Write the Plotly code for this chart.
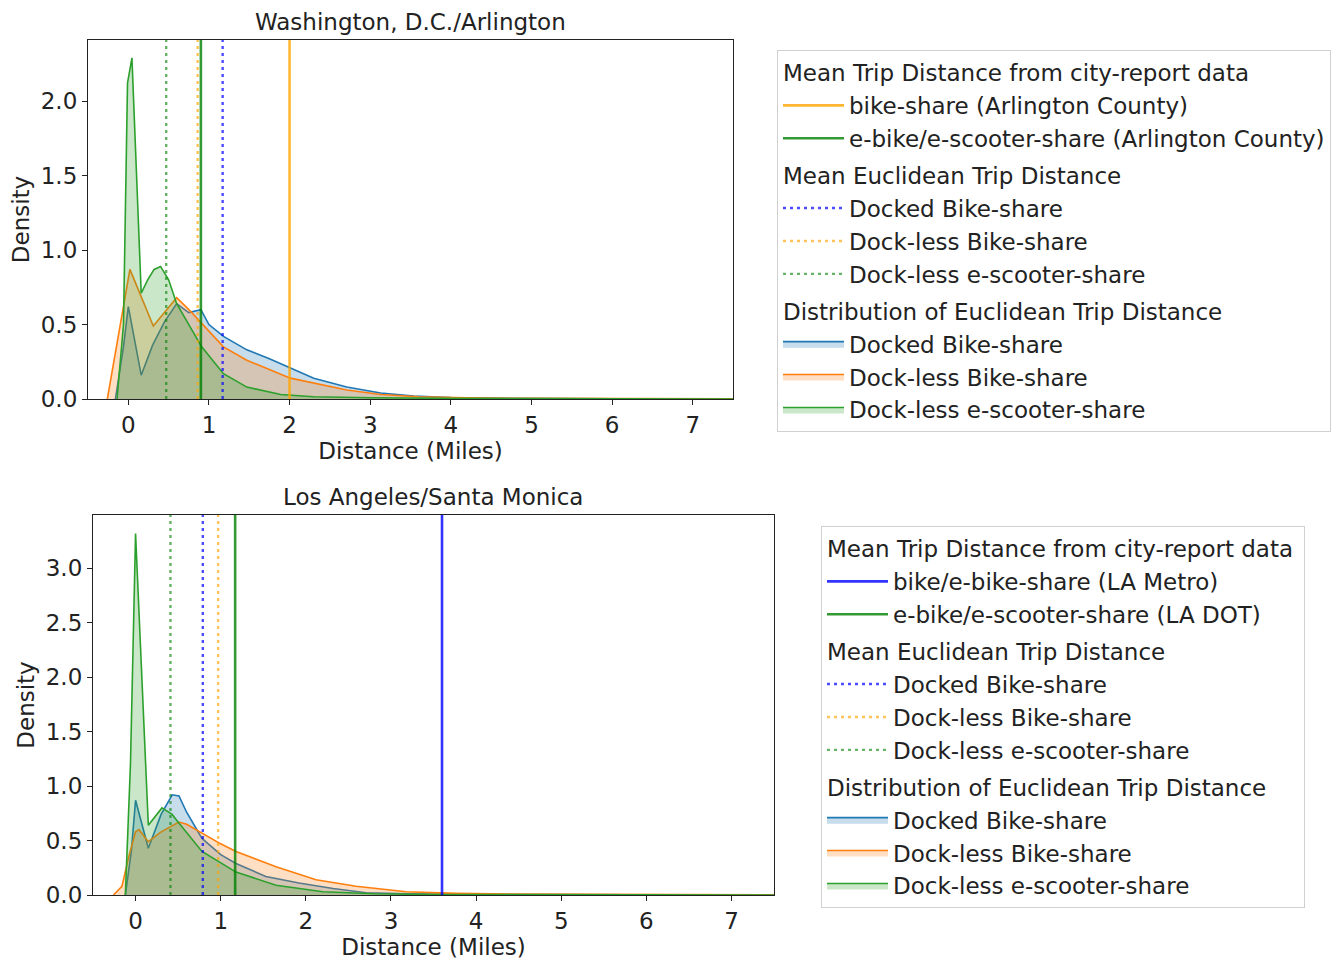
import plotly.graph_objects as go

# --- Washington, D.C./Arlington: KDE of Euclidean trip distance (miles) ---
dc_docked_x = [-0.16, -0.06, 0.0, 0.16, 0.3, 0.45, 0.6, 0.75, 0.9, 1.0, 1.18, 1.47, 1.75, 2.01, 2.3, 2.71, 3.13, 3.54, 4.0, 4.5, 5.0, 6.0, 7.5]
dc_docked_y = [0.0, 0.35, 0.62, 0.16, 0.36, 0.52, 0.64, 0.58, 0.6, 0.5, 0.42, 0.33, 0.27, 0.21, 0.14, 0.08, 0.04, 0.02, 0.01, 0.006, 0.003, 0.001, 0.0]

dc_dockless_x = [-0.26, -0.1, 0.02, 0.31, 0.6, 0.77, 0.89, 1.18, 1.47, 2.01, 2.71, 3.13, 3.6, 4.2, 5.0, 6.0, 7.5]
dc_dockless_y = [0.0, 0.5, 0.87, 0.49, 0.68, 0.59, 0.52, 0.35, 0.26, 0.14, 0.06, 0.03, 0.015, 0.008, 0.004, 0.002, 0.001]

dc_scooter_x = [-0.14, -0.06, -0.01, 0.045, 0.16, 0.24, 0.32, 0.4, 0.5, 0.6, 0.91, 1.18, 1.47, 1.89, 2.3, 3.0, 4.0, 5.0, 7.5]
dc_scooter_y = [0.0, 0.5, 2.12, 2.29, 0.71, 0.8, 0.87, 0.89, 0.8, 0.64, 0.35, 0.17, 0.08, 0.03, 0.015, 0.008, 0.004, 0.002, 0.0]

# --- Los Angeles/Santa Monica ---
la_docked_x = [-0.12, -0.05, 0.0, 0.15, 0.3, 0.43, 0.51, 0.6, 0.78, 1.0, 1.18, 1.53, 1.92, 2.32, 2.71, 3.2, 4.0, 5.0, 7.5]
la_docked_y = [0.0, 0.4, 0.87, 0.43, 0.74, 0.92, 0.91, 0.76, 0.52, 0.37, 0.29, 0.17, 0.11, 0.06, 0.02, 0.01, 0.005, 0.002, 0.0]

la_dockless_x = [-0.26, -0.16, -0.08, 0.0, 0.04, 0.15, 0.3, 0.51, 0.6, 0.78, 1.0, 1.18, 1.65, 2.12, 2.59, 3.18, 3.77, 4.5, 5.5, 7.5]
la_dockless_y = [0.0, 0.08, 0.35, 0.58, 0.6, 0.49, 0.58, 0.67, 0.65, 0.57, 0.47, 0.4, 0.26, 0.14, 0.08, 0.03, 0.015, 0.008, 0.004, 0.002]

la_scooter_x = [-0.12, -0.06, 0.0, 0.15, 0.31, 0.43, 0.49, 0.78, 1.18, 1.65, 2.2, 2.8, 3.5, 5.0, 7.5]
la_scooter_y = [0.0, 1.2, 3.32, 0.64, 0.8, 0.74, 0.68, 0.4, 0.21, 0.09, 0.03, 0.012, 0.005, 0.002, 0.0]

# mean distances (vertical lines)
dc_city_names = ["bike-share (Arlington County)", "e-bike/e-scooter-share (Arlington County)"]
dc_city_means = [2.0, 0.9]
dc_euclid_means = [1.17, 0.86, 0.47]

la_city_names = ["bike/e-bike-share (LA Metro)", "e-bike/e-scooter-share (LA DOT)"]
la_city_means = [3.6, 1.17]
la_euclid_means = [0.79, 0.97, 0.41]

mode_names = ["Docked Bike-share", "Dock-less Bike-share", "Dock-less e-scooter-share"]
x_ticks = [0, 1, 2, 3, 4, 5, 6, 7]

KDE_COLORS = ["#1f77b4", "#ff7f0e", "#2ca02c"]
KDE_FILLS = ["rgba(31,119,180,0.25)", "rgba(255,127,14,0.25)", "rgba(44,160,44,0.25)"]
MEAN_COLORS = ["rgba(0,0,255,0.7)", "rgba(255,165,0,0.65)", "rgba(0,128,0,0.6)"]
FONT = "DejaVu Sans"
FS = 23

G_CITY = "Mean Trip Distance from city-report data"
G_MEAN = "Mean Euclidean Trip Distance"
G_DIST = "Distribution of Euclidean Trip Distance"

# the page puts the plot 8px in from the window corner, so size the figure to fit
W, H, OFF = 1332, 957, 8


def px_x(sx):
    return (sx - OFF) / W


def px_y(sy):
    return 1 - (sy - OFF) / H


def add_panel(fig, xs, ys, city_names, city_means, city_colors, euclid_means, xref, yref, legend, ytop):
    # density curves first so the mean lines sit on top
    for i in range(3):
        fig.add_trace(go.Scatter(
            x=xs[i], y=ys[i], mode="lines", fill="tozeroy",
            line=dict(color=KDE_COLORS[i], width=1.6), fillcolor=KDE_FILLS[i],
            name=mode_names[i], legendgroup=legend + "dist", legendgrouptitle_text=G_DIST,
            legendrank=300 + i, legend=legend, xaxis=xref, yaxis=yref,
        ))
    for i in range(3):
        fig.add_trace(go.Scatter(
            x=[euclid_means[i], euclid_means[i]], y=[0, ytop], mode="lines",
            line=dict(color=MEAN_COLORS[i], width=2.4, dash="3px,4px"),
            name=mode_names[i], legendgroup=legend + "mean", legendgrouptitle_text=G_MEAN,
            legendrank=200 + i, legend=legend, xaxis=xref, yaxis=yref,
        ))
    for i in range(2):
        fig.add_trace(go.Scatter(
            x=[city_means[i], city_means[i]], y=[0, ytop], mode="lines",
            line=dict(color=city_colors[i], width=2.6),
            name=city_names[i], legendgroup=legend + "city", legendgrouptitle_text=G_CITY,
            legendrank=100 + i, legend=legend, xaxis=xref, yaxis=yref,
        ))


fig = go.Figure()

DC_YTOP = 2.41
LA_YTOP = 3.49

add_panel(fig, [dc_docked_x, dc_dockless_x, dc_scooter_x], [dc_docked_y, dc_dockless_y, dc_scooter_y],
          dc_city_names, dc_city_means, ["rgba(255,165,0,0.8)", "rgba(0,128,0,0.8)"],
          dc_euclid_means, "x", "y", "legend", DC_YTOP)
add_panel(fig, [la_docked_x, la_dockless_x, la_scooter_x], [la_docked_y, la_dockless_y, la_scooter_y],
          la_city_names, la_city_means, ["rgba(0,0,255,0.8)", "rgba(0,128,0,0.8)"],
          la_euclid_means, "x2", "y2", "legend2", LA_YTOP)

axis_style = dict(
    showline=True, linecolor="#222", linewidth=1.2, mirror=True,
    ticks="outside", ticklen=5, tickwidth=1, tickcolor="#222",
    showgrid=False, zeroline=False, automargin=False,
    tickfont=dict(family=FONT, size=FS, color="#222"),
)
xtitle = dict(text="Distance (Miles)", font=dict(family=FONT, size=FS, color="#222"), standoff=4)
ytitle = dict(text="Density", font=dict(family=FONT, size=FS, color="#222"), standoff=4)

legend_style = dict(
    bgcolor="white", bordercolor="#d0d0d0", borderwidth=1,
    font=dict(family=FONT, size=FS, color="#222"),
    grouptitlefont=dict(family=FONT, size=FS, color="#222"),
    traceorder="grouped", tracegroupgap=4, itemwidth=61,
    xanchor="left", yanchor="top",
)

fig.update_layout(
    width=W, height=H,
    margin=dict(l=0, r=0, t=0, b=0),
    plot_bgcolor="white", paper_bgcolor="white",
    font=dict(family=FONT, size=FS, color="#222"),
    xaxis=dict(domain=[px_x(88), px_x(733)], anchor="y", range=[-0.5, 7.5], tickvals=x_ticks, title=xtitle, **axis_style),
    yaxis=dict(domain=[px_y(399), px_y(40)], anchor="x", range=[0, DC_YTOP], dtick=0.5, tickformat=".1f", title=ytitle, **axis_style),
    xaxis2=dict(domain=[px_x(93), px_x(774)], anchor="y2", range=[-0.5, 7.5], tickvals=x_ticks, title=xtitle, **axis_style),
    yaxis2=dict(domain=[px_y(895), px_y(515)], anchor="x2", range=[0, LA_YTOP], dtick=0.5, tickformat=".1f", title=ytitle, **axis_style),
    legend=dict(x=px_x(777), y=px_y(50), **legend_style),
    legend2=dict(x=px_x(821), y=px_y(526), **legend_style),
    annotations=[
        dict(text="Washington, D.C./Arlington", x=px_x(410.5), y=px_y(22), xref="paper", yref="paper",
             xanchor="center", yanchor="middle", showarrow=False, font=dict(family=FONT, size=FS, color="#222")),
        dict(text="Los Angeles/Santa Monica", x=px_x(433.5), y=px_y(497), xref="paper", yref="paper",
             xanchor="center", yanchor="middle", showarrow=False, font=dict(family=FONT, size=FS, color="#222")),
    ],
)

fig.write_html("out.html")
